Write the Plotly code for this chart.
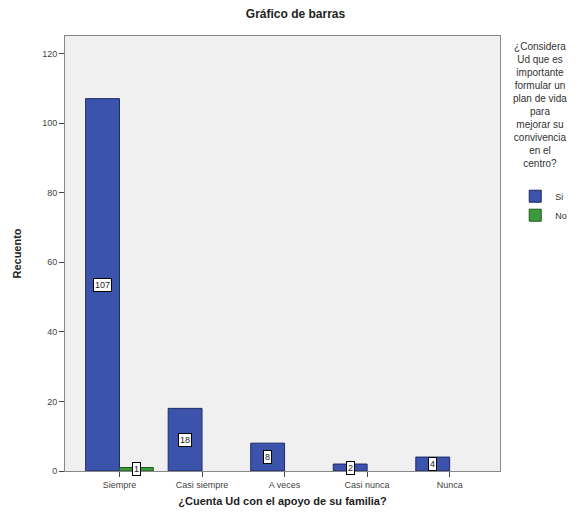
import plotly.graph_objects as go

categories = ["Siempre", "Casi siempre", "A veces", "Casi nunca", "Nunca"]
si_values = [107, 18, 8, 2, 4]
no_values = [1, 0, 0, 0, 0]
y_ticks = [0, 20, 40, 60, 80, 100, 120]

xs = list(range(len(categories)))
blue = "#3b53ab"
green = "#3c9a3c"
bar_w = 0.41

fig = go.Figure()
fig.add_trace(go.Bar(name="Si", x=xs, y=[v if v > 0 else None for v in si_values],
                     marker=dict(color=blue, line=dict(color="#1e2a66", width=1)),
                     width=bar_w, offset=-bar_w))
fig.add_trace(go.Bar(name="No", x=xs, y=[v if v > 0 else None for v in no_values],
                     marker=dict(color=green, line=dict(color="#1d5a1d", width=1)),
                     width=bar_w, offset=0))

annotations = []
for i, v in enumerate(si_values):
    if v > 0:
        annotations.append(dict(x=i - bar_w / 2, y=v / 2, xref="x", yref="y", text=str(v), showarrow=False,
                                bgcolor="white", bordercolor="black", borderwidth=1, borderpad=1,
                                font=dict(size=9, color="#222")))
for i, v in enumerate(no_values):
    if v > 0:
        annotations.append(dict(x=i + bar_w / 2, y=v / 2, xref="x", yref="y", text=str(v), showarrow=False,
                                bgcolor="white", bordercolor="black", borderwidth=1, borderpad=1,
                                font=dict(size=9, color="#222")))

annotations.append(dict(
    x=1.092, y=0.992, xref="paper", yref="paper", xanchor="center", yanchor="top", align="center",
    text="¿Considera<br>Ud que es<br>importante<br>formular un<br>plan de vida<br>para<br>mejorar su<br>convivencia<br>en el<br>centro?",
    showarrow=False, font=dict(size=10, color="#333")))

fig.update_layout(
    width=575, height=515,
    margin=dict(l=57, r=83, t=28, b=52, autoexpand=False),
    paper_bgcolor="white",
    plot_bgcolor="#f0f0f0",
    font=dict(family="Liberation Sans, Arial, sans-serif", color="#333"),
    title=dict(text="<b>Gráfico de barras</b>", x=0.5, xanchor="center", y=0.997, yanchor="top",
               font=dict(size=12, color="#222")),
    showlegend=True,
    legend=dict(x=1.035, y=0.665, xanchor="left", yanchor="top", font=dict(size=9, color="#333"),
                itemwidth=30, tracegroupgap=0, bgcolor="rgba(0,0,0,0)"),
    barmode="overlay",
    xaxis=dict(tickmode="array", tickvals=xs, ticktext=categories, range=[-0.66, 4.61],
               showgrid=False, zeroline=False, showline=True, linecolor="#888", mirror=True,
               ticks="outside", ticklen=5, tickcolor="#444", tickfont=dict(size=9, color="#444"),
               title=dict(text="<b>¿Cuenta Ud con el apoyo de su familia?</b>", font=dict(size=11, color="#222"),
                          standoff=8)),
    yaxis=dict(range=[0, 125], tickvals=y_ticks, showgrid=False, zeroline=False, showline=True,
               linecolor="#888", mirror=True, ticks="outside", ticklen=5, tickcolor="#444",
               tickfont=dict(size=9, color="#444"),
               title=dict(text="<b>Recuento</b>", font=dict(size=11, color="#222"), standoff=18)),
    annotations=annotations,
)

fig.write_html("out.html")
